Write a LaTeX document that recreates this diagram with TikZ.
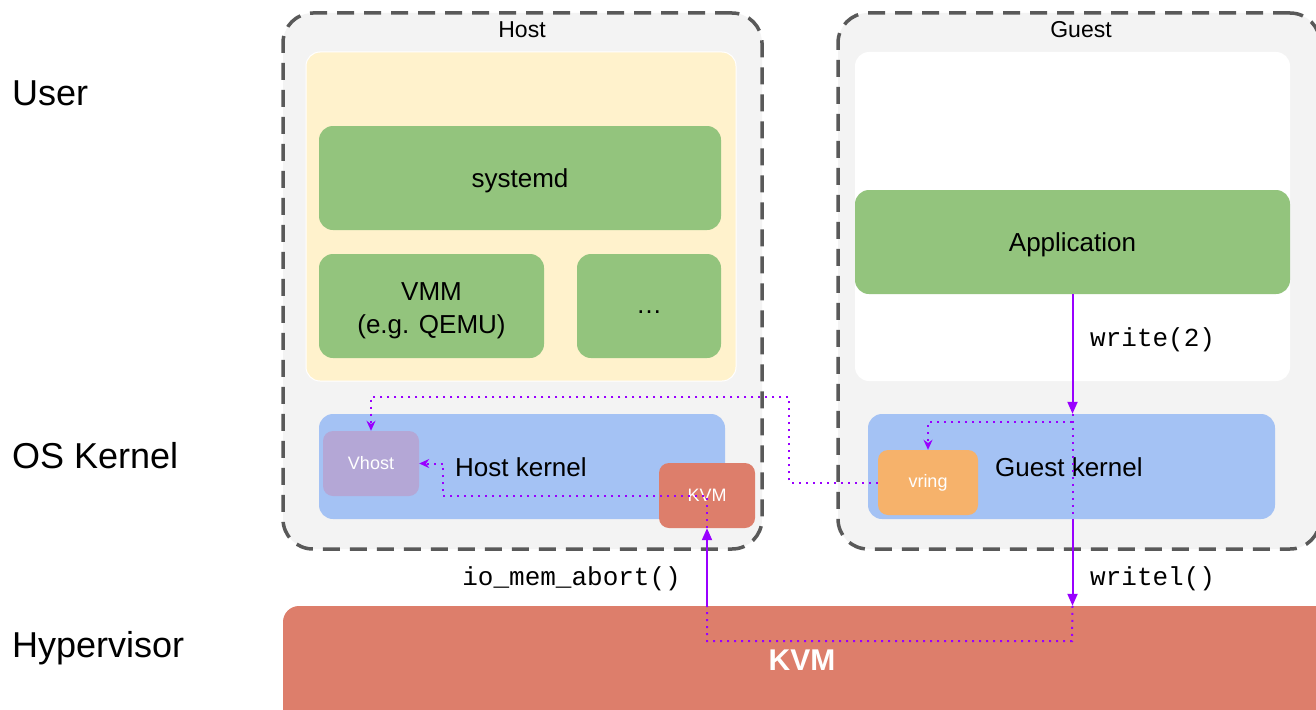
\documentclass[tikz,border=0pt]{standalone}
\usepackage{fontspec}
\setmainfont{Liberation Sans}
\newfontfamily\monof{Liberation Mono}
\usetikzlibrary{arrows.meta}
\definecolor{panelgray}{HTML}{F3F3F3}
\definecolor{dashgray}{HTML}{595959}
\definecolor{usery}{HTML}{FFF2CC}
\definecolor{procg}{HTML}{93C47D}
\definecolor{kernb}{HTML}{A4C2F4}
\definecolor{vhostp}{HTML}{B4A7D6}
\definecolor{kvmr}{HTML}{DD7E6B}
\definecolor{vringo}{HTML}{F6B26B}
\definecolor{flowc}{HTML}{9900FF}
\begin{document}
\begin{tikzpicture}[x=1pt,y=-1pt,
  outer/.style={draw=dashgray, fill=panelgray, line width=3.5pt, dash pattern=on 17pt off 10pt, rounded corners=30pt, inner sep=0pt},
  box/.style={rounded corners=14pt, inner sep=0pt, align=center, font=\fontsize{26}{33}\selectfont},
  small/.style={box, rounded corners=10pt, text=white, font=\fontsize{18}{22}\selectfont},
  lbl/.style={inner sep=0pt, font=\fontsize{26}{33}\selectfont},
  side/.style={inner sep=0pt, anchor=west, font=\fontsize{36}{42}\selectfont},
  mono/.style={inner sep=0pt, font=\monof\fontsize{26}{30}\selectfont},
  flow/.style={draw=flowc, line width=2pt},
  flowdot/.style={draw=flowc, line width=2pt, dash pattern=on 2pt off 5pt},
  tri/.style={-{Triangle[length=12pt,width=10pt]}},
  stl/.style={-{Stealth[length=10pt,width=9pt]}}
]
\useasboundingbox (0,0) rectangle (1316,709);

% side labels
\node[side] (luser) at (12,93) {User};
\node[side] (lkern) at (12,456) {OS Kernel};
\node[side] (lhyp) at (12,648) {Hypervisor};

% Host
\node[outer, minimum width=479pt, minimum height=536pt] (hostbox) at (522.5,281) {};
\node[lbl, font=\fontsize{23}{28}\selectfont] (hostlbl) at (522,30) {Host};
\node[box, fill=usery, draw=white, line width=1pt, minimum width=430pt, minimum height=329pt] (hostuser) at (521,216.5) {};
\node[box, fill=procg, minimum width=402pt, minimum height=104pt] (systemd) at (520,178) {\rule{0pt}{24pt}systemd};
\node[box, fill=procg, minimum width=225pt, minimum height=104pt] (vmm) at (431.5,306) {\rule{0pt}{28pt}VMM\\(e.g. QEMU)};
\node[box, fill=procg, minimum width=144pt, minimum height=104pt] (more) at (649,306) {\rule{0pt}{14pt}…};
\node[box, fill=kernb, minimum width=406pt, minimum height=105pt] (hostkernel) at (522,466.5) {};
\node[lbl, anchor=west] (hklbl) at (455,467) {Host kernel};
\node[small, fill=vhostp, minimum width=96pt, minimum height=65pt] (vhost) at (371,463.5) {Vhost};
\node[small, fill=kvmr, minimum width=96pt, minimum height=65pt] (kvmsmall) at (707,495.5) {KVM};

% Guest
\node[outer, minimum width=482pt, minimum height=536pt] (guestbox) at (1079,281) {};
\node[lbl, font=\fontsize{23}{28}\selectfont] (guestlbl) at (1081,30) {Guest};
\node[box, fill=white, minimum width=435pt, minimum height=329pt] (guestuser) at (1072.5,216.5) {};
\node[box, fill=procg, minimum width=435pt, minimum height=104pt] (app) at (1072.5,242) {\rule{0pt}{24pt}Application};
\node[box, fill=kernb, minimum width=407pt, minimum height=105pt] (guestkernel) at (1071.5,466.5) {};
\node[lbl, anchor=west] (gklbl) at (995,467) {Guest kernel};
\node[small, fill=vringo, minimum width=100pt, minimum height=65pt] (vring) at (928,482.5) {vring};

% Hypervisor
\node[box, rounded corners=16pt, fill=kvmr, minimum width=1047pt, minimum height=120pt] (hyper) at (806.5,666) {};
\node[inner sep=0pt, text=white, font=\bfseries\fontsize{30}{36}\selectfont] (kvmbig) at (802,660) {KVM};

% call labels
\node[mono, anchor=west] (wr2) at (1090,340) {write(2)};
\node[mono, anchor=west] (wrl) at (1090,579) {writel()};
\node[mono, anchor=east] (iom) at (681,579) {io\_mem\_abort()};

% bend coordinates
\coordinate (gkbend) at (1072,422);
\coordinate (hostbend) at (789,397);
\coordinate (loopbend) at (1072,641);
\coordinate (vhbend) at (443,496);

% flows
\draw[flow, tri] (app.south) -- (app.south |- guestkernel.north);
\draw[flowdot] (app.south |- guestkernel.north) -- (app.south |- guestkernel.south);
\draw[flow, tri] (app.south |- guestkernel.south) -- (app.south |- hyper.north);
\draw[flowdot, stl] (gkbend) -| (vring.north);
\draw[flowdot, stl] (vring.west) -| (hostbend) -| (vhost.north);
\draw[flowdot] (app.south |- hyper.north) -- (loopbend) -| (kvmsmall.south |- hyper.north);
\draw[flow, tri] (kvmsmall.south |- hyper.north) -- (kvmsmall.south);
\draw[flowdot, stl] (kvmsmall.south) |- (vhbend) -- (vhbend |- vhost.east) -- (vhost.east);
\end{tikzpicture}
\end{document}
